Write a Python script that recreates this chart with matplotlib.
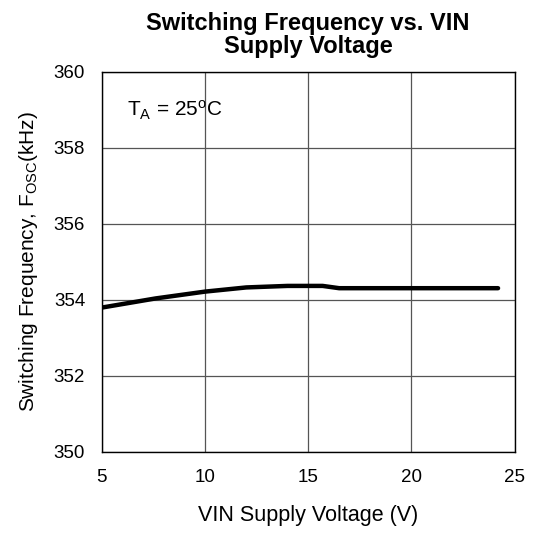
import matplotlib
matplotlib.use("Agg")
import matplotlib.pyplot as plt

plt.rcParams['font.family'] = ['Liberation Sans', 'DejaVu Sans']
plt.rcParams['mathtext.fontset'] = 'custom'
plt.rcParams['mathtext.rm'] = 'Liberation Sans'
plt.rcParams['mathtext.it'] = 'Liberation Sans:italic'
plt.rcParams['mathtext.bf'] = 'Liberation Sans:bold'

vin = [5.0, 7.6, 10.0, 12.0, 14.0, 15.7, 16.5, 24.2]
fosc = [353.8, 354.04, 354.22, 354.33, 354.37, 354.37, 354.31, 354.31]
xticks = [5, 10, 15, 20, 25]
yticks = [350, 352, 354, 356, 358, 360]

fig = plt.figure(figsize=(5.36, 5.33), dpi=100)
ax = fig.add_axes([0.190, 0.152, 0.770, 0.713])
ax.plot(vin, fosc, color='black', lw=3.2, solid_capstyle='round', zorder=3)
ax.set_xlim(5, 25)
ax.set_ylim(350, 360)
ax.set_xticks(xticks)
ax.set_yticks(yticks)
ax.grid(True, color='#555555', lw=0.9)
ax.tick_params(length=0, labelsize=13.5, pad=12)
for s in ax.spines.values():
    s.set_linewidth(1.0)
ax.set_xlabel('VIN Supply Voltage (V)', fontsize=15.5, labelpad=14)
ax.set_ylabel(r'Switching Frequency, F$_\mathrm{OSC}$(kHz)', fontsize=15, labelpad=10)
ax.set_title('Switching Frequency vs. VIN\nSupply Voltage', fontsize=17, fontweight='bold',
             linespacing=1.0, pad=14)
ax.text(6.2, 359.0, r'T$_\mathrm{A}$ = 25$^\mathrm{o}$C', fontsize=15, va='center')
fig.savefig('out.png', dpi=100)
